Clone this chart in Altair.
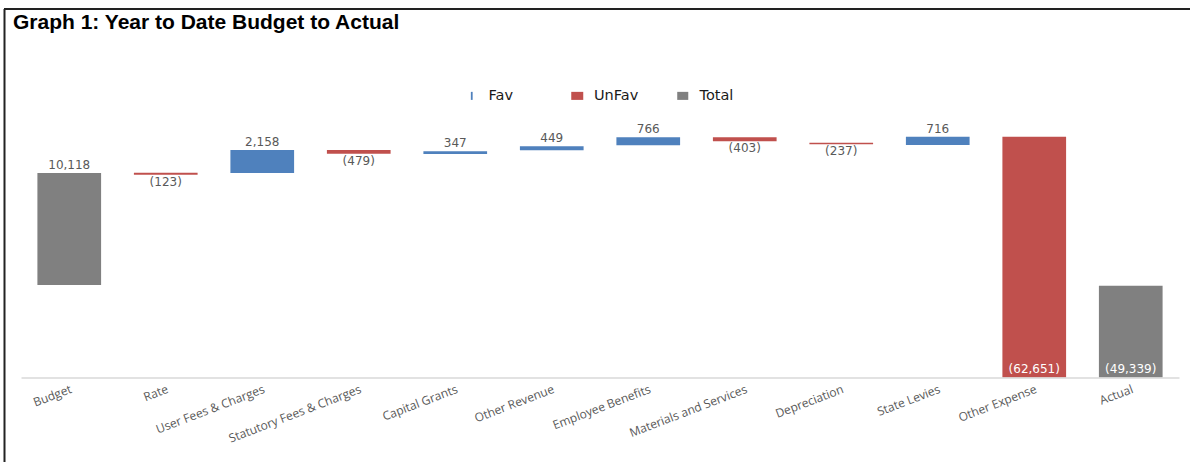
import altair as alt
import pandas as pd

categories = ["Budget", "Rate", "User Fees & Charges", "Statutory Fees & Charges",
              "Capital Grants", "Other Revenue", "Employee Benefits",
              "Materials and Services", "Depreciation", "State Levies",
              "Other Expense", "Actual"]
types = ["Total", "UnFav", "Fav", "UnFav", "Fav", "Fav", "Fav", "UnFav", "UnFav",
         "Fav", "UnFav", "Total"]
value_labels = ["10,118", "(123)", "2,158", "(479)", "347", "449", "766", "(403)",
                "(237)", "716", "(62,651)", "(49,339)"]
# bar extents as drawn in the picture (chart units, 0 = baseline)
bar_start = [92.5, 202.8, 204.5, 223.8, 223.5, 227.2, 232.2, 236.2, 233.2, 232.5, 0, 0]
bar_end = [204.5, 204.8, 227.5, 227.5, 226.2, 231.2, 240.2, 240.2, 234.8, 240.8, 240.8, 91.8]
label_pos = ["above", "below", "above", "below", "above", "above", "above", "below",
             "below", "above", "inside", "inside"]

legend_items = ["Fav", "UnFav", "Total"]
colors = ["#4F81BD", "#C0504D", "#808080"]
shapes = ["M-0.15,-0.67H0.15V0.67H-0.15Z",
          "M-1,-0.67H1V0.67H-1Z",
          "M-0.92,-0.67H0.92V0.67H-0.92Z"]

df = pd.DataFrame({
    "Category": categories,
    "Type": types,
    "Label": value_labels,
    "Start": bar_start,
    "End": bar_end,
    "Pos": label_pos,
})

W, H = 1158, 277
PAD = {"left": 21, "top": 100.5, "right": 11, "bottom": 84.5}

x_enc = alt.X("Category:N", sort=categories,
              scale=alt.Scale(paddingInner=0.34, paddingOuter=0.17),
              axis=alt.Axis(title=None, labelAngle=-21, ticks=False,
                            domainColor="#d9d9d9", domainWidth=1.5,
                            labelFont="Open Sans", labelFontSize=12,
                            labelColor="#595959", labelPadding=6,
                            labelLimit=400, zindex=1))
y_scale = alt.Scale(domain=[0, H], nice=False, zero=False)

legend = alt.Legend(orient="none", legendX=443.5, legendY=-12,
                    direction="horizontal", title=None, columns=3,
                    labelFont="DejaVu Sans", labelFontSize=14.5,
                    labelColor="#1a1a1a", symbolSize=144,
                    symbolStrokeWidth=0, symbolOpacity=1,
                    columnPadding=36.5, labelOffset=9.5, gridAlign="all")
color_enc = alt.Color("Type:N", scale=alt.Scale(domain=legend_items, range=colors),
                      legend=legend)

base = alt.Chart(df)

bars = base.mark_bar().encode(
    x=x_enc,
    y=alt.Y("Start:Q", scale=y_scale, axis=None),
    y2="End:Q",
    color=color_enc,
)

legend_pts = base.mark_point(filled=True, opacity=0).encode(
    x=alt.X("Category:N", sort=categories),
    y=alt.Y("End:Q", scale=y_scale, axis=None),
    color=color_enc,
    shape=alt.Shape("Type:N", scale=alt.Scale(domain=legend_items, range=shapes),
                    legend=legend),
)

txt_common = dict(font="DejaVu Sans", fontSize=12)
above = base.transform_filter(alt.datum.Pos == "above").mark_text(
    baseline="alphabetic", dy=-4, color="#595959", **txt_common
).encode(x=alt.X("Category:N", sort=categories),
         y=alt.Y("End:Q", scale=y_scale, axis=None), text="Label:N")
below = base.transform_filter(alt.datum.Pos == "below").mark_text(
    baseline="top", dy=2, color="#595959", **txt_common
).encode(x=alt.X("Category:N", sort=categories),
         y=alt.Y("Start:Q", scale=y_scale, axis=None), text="Label:N")
inside = base.transform_filter(alt.datum.Pos == "inside").mark_text(
    baseline="bottom", dy=-2, color="white", **txt_common
).encode(x=alt.X("Category:N", sort=categories),
         y=alt.Y("Start:Q", scale=y_scale, axis=None), text="Label:N")

frame_df = pd.DataFrame({"a": [0]})
top_line = alt.Chart(frame_df).mark_rule(color="#222222", strokeWidth=2).encode(
    x=alt.value(-17), x2=alt.value(1169), y=alt.value(-91.5))
left_line = alt.Chart(frame_df).mark_rule(color="#222222", strokeWidth=2).encode(
    x=alt.value(-16.5), y=alt.value(-91.5), y2=alt.value(361.5))

chart = alt.layer(bars, legend_pts, above, below, inside, top_line, left_line).properties(
    width=W, height=H,
    autosize=alt.AutoSizeParams(type="none"),
    padding=PAD,
    background="white",
    title=alt.TitleParams("Graph 1: Year to Date Budget to Actual",
                          anchor="start", frame="group", dx=-8, dy=25, offset=0,
                          font="Liberation Sans", fontSize=21, fontWeight="bold",
                          color="black"),
).configure_view(stroke=None)

chart.save("out.html", embed_options={"renderer": "svg", "actions": False})
